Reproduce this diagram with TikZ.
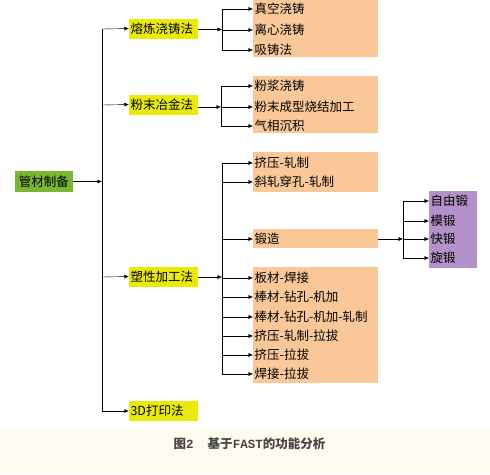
\documentclass[tikz,border=0pt]{standalone}
\usepackage{fontspec}
\setmainfont{Noto Sans CJK SC}
\newfontfamily\capmono{Liberation Mono}
\usepackage{xcolor}
\usetikzlibrary{positioning,arrows.meta}
\definecolor{boxgreen}{RGB}{122,182,52}
\definecolor{boxyellow}{RGB}{234,234,10}
\definecolor{boxorange}{RGB}{250,200,152}
\definecolor{boxpurple}{RGB}{180,145,200}
\definecolor{bgcream}{RGB}{254,252,240}
\definecolor{captiongray}{RGB}{70,70,70}

\begin{document}
\begin{tikzpicture}[x=1pt,y=-1pt,
    font=\fontsize{12.5}{13}\selectfont,
    arr/.style={-{Latex[length=4.5pt,width=4pt]},thin},
    ln/.style={thin},
    gbox/.style={fill=boxgreen,minimum width=58pt,minimum height=21pt,inner sep=1pt},
    ybox/.style={fill=boxyellow,text width=66pt,align=left,minimum height=20pt,inner xsep=1.5pt,inner ysep=1pt},
    item/.style={anchor=west,inner xsep=1.5pt,inner ysep=0pt}]
    \useasboundingbox (0,0) rectangle (490,474);
    \fill[bgcream] (0,0) rectangle (490,474);
    \fill[white] (0,0) rectangle (490,429);
    % root
    \node[gbox] (root) at (44,181.5) {管材制备};
    \coordinate (trunk) at (102,181.5);
    \draw[arr] (root) -- (trunk);
    \draw[ln] (102,29) -- (102,411);
    % first level
    \node[ybox] (melt) at (163.5,28.5) {熔炼浇铸法};
    \node[ybox] (powder) at (163.5,104.5) {粉末冶金法};
    \node[ybox] (plastic) at (163.5,276.5) {塑性加工法};
    \node[ybox] (print) at (163.5,411) {3D打印法};
    \foreach \n/\y in {melt/29,powder/105,plastic/277,print/411}
        \draw[arr] (102,\y) -- (\n.west);
    % orange boxes
    \fill[boxorange] (253,0) rectangle (378,57);
    \fill[boxorange] (253,76) rectangle (378,133);
    \fill[boxorange] (253,152) rectangle (378,192);
    \fill[boxorange] (253,229) rectangle (378,248);
    \fill[boxorange] (253,267) rectangle (378,383);
    \fill[boxpurple] (429,191) rectangle (477,268);
    % casting branch
    \node[item] (c1) at (253,9) {真空浇铸};
    \node[item] (c2) at (253,30) {离心浇铸};
    \node[item] (c3) at (253,50) {吸铸法};
    \coordinate (mb) at (222,29.5);
    \draw[arr] (melt.east |- mb) -- (mb);
    \draw[ln] (222,9) -- (222,50);
    \foreach \n in {c1,c2,c3}
        \draw[arr] (222,0 |- \n.west) -- (\n.west);
    % powder branch
    \node[item] (p1) at (253,86) {粉浆浇铸};
    \node[item] (p2) at (253,107) {粉末成型烧结加工};
    \node[item] (p3) at (253,126) {气相沉积};
    \coordinate (pb) at (221,107);
    \draw[arr] (powder.east |- pb) -- (pb);
    \draw[ln] (221,86) -- (221,126);
    \foreach \n in {p1,p2,p3}
        \draw[arr] (221,0 |- \n.west) -- (\n.west);
    % plastic branch
    \node[item] (s1) at (253,163) {挤压-轧制};
    \node[item] (s2) at (253,182) {斜轧穿孔-轧制};
    \node[item] (s3) at (253,239) {锻造};
    \node[item] (s4) at (253,278) {板材-焊接};
    \node[item] (s5) at (253,297) {棒材-钻孔-机加};
    \node[item] (s6) at (253,317) {棒材-钻孔-机加-轧制};
    \node[item] (s7) at (253,336) {挤压-轧制-拉拔};
    \node[item] (s8) at (253,355) {挤压-拉拔};
    \node[item] (s9) at (253,374) {焊接-拉拔};
    \coordinate (sb) at (222,277);
    \draw[arr] (plastic.east |- sb) -- (sb);
    \draw[ln] (222,163) -- (222,374);
    \foreach \n in {s1,s2,s3,s4,s5,s6,s7,s8,s9}
        \draw[arr] (222,0 |- \n.west) -- (\n.west);
    % forging branch
    \node[item] (f1) at (429,201) {自由锻};
    \node[item] (f2) at (429,221) {模锻};
    \node[item] (f3) at (429,239) {快锻};
    \node[item] (f4) at (429,258) {旋锻};
    \coordinate (fb) at (403,239);
    \draw[arr] (378,239) -- (fb);
    \draw[ln] (403,201) -- (403,258);
    \foreach \n in {f1,f2,f3,f4}
        \draw[arr] (403,0 |- \n.west) -- (\n.west);
    % caption
    \node[text=captiongray,font=\fontsize{12.5}{13}\selectfont\bfseries] (cap) at (249.5,444) {图{\capmono 2}\hspace{14pt}基于{\capmono FAST}的功能分析};
\end{tikzpicture}
\end{document}
